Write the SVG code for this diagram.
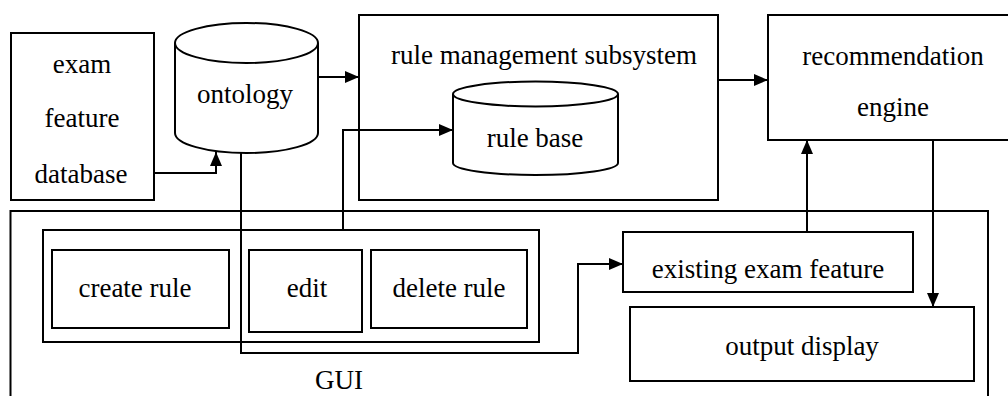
<svg xmlns="http://www.w3.org/2000/svg" width="1008" height="396" viewBox="0 0 1008 396">
<defs>
<style>
.box{fill:#fff;stroke:#000;stroke-width:2}
.ln{fill:none;stroke:#000;stroke-width:2}
.t{fill:#000;text-anchor:middle;font-family:'Liberation Serif','Times New Roman',serif;font-size:27px}
</style>
<marker id="ah" markerUnits="userSpaceOnUse" markerWidth="14" markerHeight="12" refX="14" refY="6" orient="auto">
<path d="M0,0 L14,6 L0,12 z" fill="#000"/>
</marker>
</defs>
<rect width="1008" height="396" fill="#fff"/>
<g id="gui">
<rect class="box" x="10.5" y="211" width="977.5" height="200"/>
<text class="t" x="339" y="389">GUI</text>
</g>
<g id="exam-feature-database">
<rect class="box" x="11" y="33" width="143" height="167"/>
<text class="t" x="82" y="73">exam</text>
<text class="t" x="82" y="127">feature</text>
<text class="t" x="81" y="183">database</text>
</g>
<g id="ontology">
<path class="box" d="M175,43 V133 A71.5,20 0 0 0 318,133 V43"/>
<ellipse class="box" cx="246.5" cy="43" rx="71.5" ry="20"/>
<text class="t" x="245" y="103">ontology</text>
</g>
<g id="rule-management-subsystem">
<rect class="box" x="359" y="15" width="359" height="185"/>
<text class="t" x="544" y="64">rule management subsystem</text>
</g>
<g id="rule-base">
<path class="box" d="M453,94 V163 A82.5,12 0 0 0 618,163 V94"/>
<ellipse class="box" cx="535.5" cy="94" rx="82.5" ry="12.5"/>
<text class="t" x="535" y="147">rule base</text>
</g>
<g id="recommendation-engine">
<rect class="box" x="768" y="15" width="250" height="125"/>
<text class="t" x="893" y="65">recommendation</text>
<text class="t" x="893" y="116">engine</text>
</g>
<g id="rule-operations">
<rect class="box" x="43" y="230" width="496" height="112"/>
</g>
<g id="create-rule">
<rect class="box" x="52" y="250" width="177" height="78"/>
<text class="t" x="135" y="297">create rule</text>
</g>
<g id="edit">
<rect class="box" x="249" y="250" width="113" height="82"/>
<text class="t" x="307" y="297">edit</text>
</g>
<g id="delete-rule">
<rect class="box" x="371" y="250" width="156" height="78"/>
<text class="t" x="449" y="297">delete rule</text>
</g>
<g id="existing-exam-feature">
<rect class="box" x="623" y="232" width="290" height="60"/>
<text class="t" x="768" y="278">existing exam feature</text>
</g>
<g id="output-display">
<rect class="box" x="630" y="307" width="344" height="74"/>
<text class="t" x="802" y="355">output display</text>
</g>
<g id="connectors">
<path class="ln" d="M154,173 H216 V152" marker-end="url(#ah)"/>
<path class="ln" d="M318,77 H359" marker-end="url(#ah)"/>
<path class="ln" d="M343,230 V130 H453" marker-end="url(#ah)"/>
<path class="ln" d="M241,153 V353 H578 V264 H623" marker-end="url(#ah)"/>
<path class="ln" d="M718,80 H768" marker-end="url(#ah)"/>
<path class="ln" d="M807,232 V140" marker-end="url(#ah)"/>
<path class="ln" d="M933,140 V307" marker-end="url(#ah)"/>
</g>
</svg>
